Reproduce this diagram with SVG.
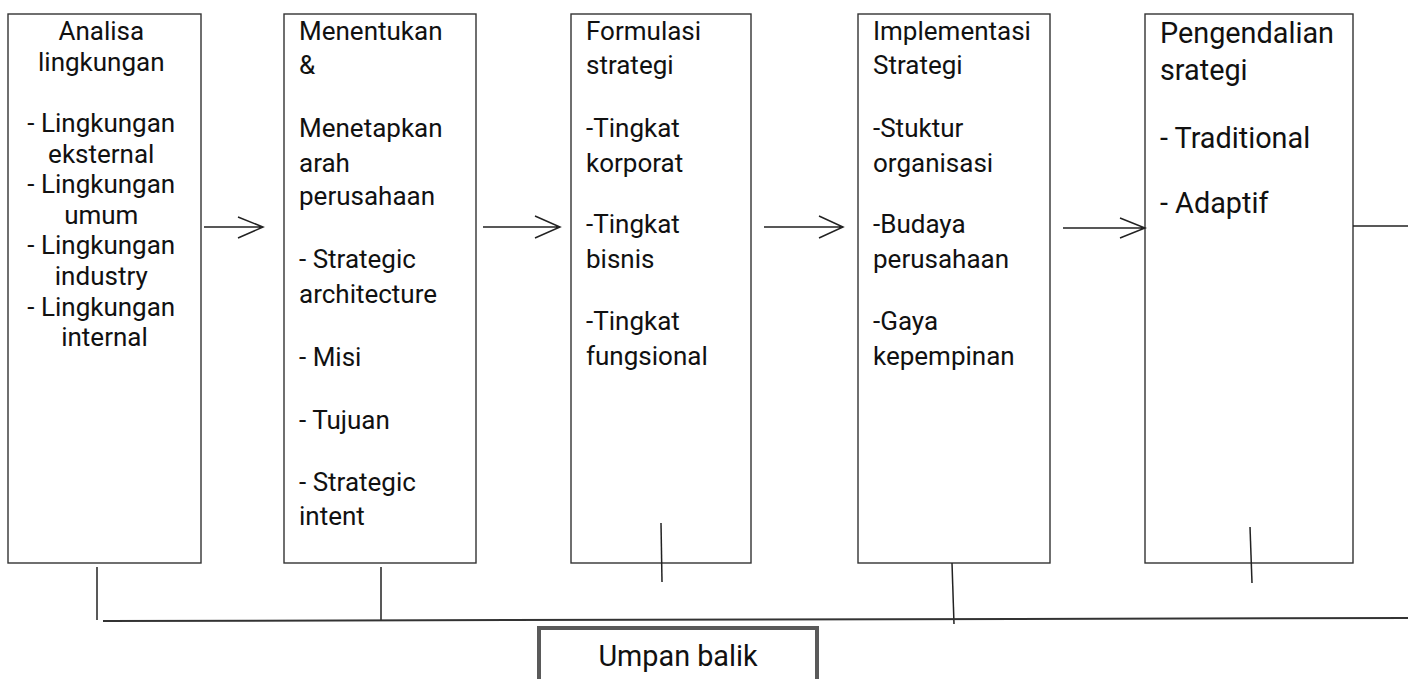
<svg xmlns="http://www.w3.org/2000/svg" width="1408" height="679" viewBox="0 0 1408 679">
<style>
.box{fill:#fff;stroke:#333;stroke-width:1.4}
.t{font-family:Roboto,"Liberation Sans",sans-serif;font-size:26px;fill:#111}
.t5{font-family:Roboto,"Liberation Sans",sans-serif;font-size:28.8px;fill:#111}
.c{text-anchor:middle}
.ln{stroke:#222;stroke-width:1.5;fill:none}
.fb{stroke:#333;stroke-width:2;fill:none}
</style>
<rect width="1408" height="679" fill="#fff"/>
<g id="node-analisa">
<rect class="box" x="8" y="14" width="193" height="549"/>
<text class="t c" x="104.5">
<tspan x="104.5" y="40">Analisa</tspan>
<tspan x="104.5" y="70.6">lingkungan</tspan>
<tspan x="104.5" y="132">- Lingkungan</tspan>
<tspan x="104.5" y="162.6">eksternal</tspan>
<tspan x="104.5" y="193.2">- Lingkungan</tspan>
<tspan x="104.5" y="223.8">umum</tspan>
<tspan x="104.5" y="254.4">- Lingkungan</tspan>
<tspan x="104.5" y="285">industry</tspan>
<tspan x="104.5" y="315.6">- Lingkungan</tspan>
<tspan x="104.5" y="346.2">internal</tspan>
</text>
</g>
<g id="node-menentukan">
<rect class="box" x="284" y="14" width="192" height="549"/>
<text class="t">
<tspan x="299" y="40">Menentukan</tspan>
<tspan x="299" y="74">&amp;</tspan>
<tspan x="299" y="137">Menetapkan</tspan>
<tspan x="299" y="172">arah</tspan>
<tspan x="299" y="205">perusahaan</tspan>
<tspan x="299" y="268">- Strategic</tspan>
<tspan x="299" y="303">architecture</tspan>
<tspan x="299" y="366">- Misi</tspan>
<tspan x="299" y="429">- Tujuan</tspan>
<tspan x="299" y="491">- Strategic</tspan>
<tspan x="299" y="525">intent</tspan>
</text>
</g>
<g id="node-formulasi">
<rect class="box" x="571" y="14" width="180" height="549"/>
<text class="t">
<tspan x="586" y="40">Formulasi</tspan>
<tspan x="586" y="74">strategi</tspan>
<tspan x="586" y="137">-Tingkat</tspan>
<tspan x="586" y="172">korporat</tspan>
<tspan x="586" y="233">-Tingkat</tspan>
<tspan x="586" y="268">bisnis</tspan>
<tspan x="586" y="330">-Tingkat</tspan>
<tspan x="586" y="365">fungsional</tspan>
</text>
</g>
<g id="node-implementasi">
<rect class="box" x="858" y="14" width="192" height="549"/>
<text class="t">
<tspan x="873" y="40">Implementasi</tspan>
<tspan x="873" y="74">Strategi</tspan>
<tspan x="873" y="137">-Stuktur</tspan>
<tspan x="873" y="172">organisasi</tspan>
<tspan x="873" y="233">-Budaya</tspan>
<tspan x="873" y="268">perusahaan</tspan>
<tspan x="873" y="330">-Gaya</tspan>
<tspan x="873" y="365">kepempinan</tspan>
</text>
</g>
<g id="node-pengendalian">
<rect class="box" x="1145" y="14" width="208" height="549"/>
<text class="t5">
<tspan x="1160" y="43">Pengendalian</tspan>
<tspan x="1160" y="80">srategi</tspan>
<tspan x="1160" y="148">- Traditional</tspan>
<tspan x="1160" y="213">- Adaptif</tspan>
</text>
</g>
<g id="node-umpan-balik">
<rect x="539" y="628" width="278" height="70" fill="#fff" stroke="#5a5a5a" stroke-width="4"/>
<text class="t5 c" x="678" y="666">Umpan balik</text>
</g>
<g id="connectors">
<path class="ln" d="M204 227H263M238 217L263 227L238 238"/>
<path class="ln" d="M483 227H560M535 216L560 227L535 238"/>
<path class="ln" d="M764 227H843M819 216L843 227L819 238"/>
<path class="ln" d="M1063 228H1145M1120 218L1145 228L1120 238"/>
<path class="ln" d="M1353 226H1408"/>
<path class="ln" d="M97 567V620"/>
<path class="ln" d="M381 567V620"/>
<path class="ln" d="M661 523L662 582"/>
<path class="ln" d="M952 563L954 624"/>
<path class="ln" d="M1250 527L1252 583"/>
<path class="fb" d="M103 621L1408 618"/>
</g>
</svg>
